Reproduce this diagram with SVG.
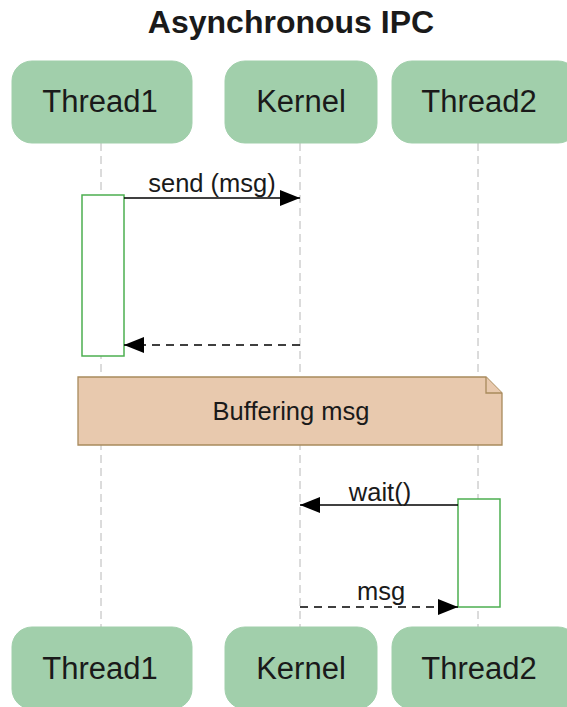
<svg xmlns="http://www.w3.org/2000/svg" width="567" height="707" viewBox="0 0 567 707">
  <style>
    text { font-family: "Liberation Sans", Arial, sans-serif; fill: #1a1a1a; }
    .title { font-size: 32px; font-weight: bold; }
    .actor rect { fill: #a1cfab; stroke: #a1cfab; stroke-width: 1; }
    .actor text { font-size: 31px; text-anchor: middle; }
    .lifeline { stroke: #b8b8b8; stroke-width: 1; stroke-dasharray: 8 5; fill: none; }
    .act { fill: #ffffff; stroke: #4caf50; stroke-width: 1.5; }
    .msg { stroke: #000; stroke-width: 1.6; fill: none; }
    .ret { stroke-dasharray: 8 6; }
    .label { font-size: 25.5px; text-anchor: middle; }
    .note path { fill: #e8c9ae; stroke: #a88a5c; stroke-width: 1.3; }
  </style>
  <defs>
    <marker id="head" viewBox="0 0 20 16" refX="20" refY="8" markerWidth="20" markerHeight="16" markerUnits="userSpaceOnUse" orient="auto">
      <path d="M0,0 L20,8 L0,16 Z" fill="#000"/>
    </marker>
  </defs>

  <text class="title" x="291" y="33" text-anchor="middle">Asynchronous IPC</text>

  <!-- lifelines -->
  <g id="lifelines">
    <line class="lifeline" x1="101" y1="143" x2="101" y2="628"/>
    <line class="lifeline" x1="300" y1="143" x2="300" y2="628"/>
    <line class="lifeline" x1="478" y1="143" x2="478" y2="628"/>
  </g>

  <!-- activation bars -->
  <rect id="act-thread1" class="act" x="82" y="195" width="42" height="161"/>
  <rect id="act-thread2" class="act" x="458" y="499" width="42" height="108"/>

  <!-- note -->
  <g id="note-buffering" class="note">
    <path d="M78,377 H486 L502,393 V445 H78 Z"/>
    <path d="M486,377 V393 H502" fill="none"/>
    <text class="label" x="291" y="420">Buffering msg</text>
  </g>

  <!-- messages -->
  <g id="connectors">
    <line class="msg" x1="124" y1="198" x2="300" y2="198" marker-end="url(#head)"/>
    <text class="label" x="212" y="192">send (msg)</text>
    <line class="msg ret" x1="300" y1="345" x2="124" y2="345" marker-end="url(#head)"/>
    <line class="msg" x1="458" y1="505" x2="300" y2="505" marker-end="url(#head)"/>
    <text class="label" x="380" y="501">wait()</text>
    <line class="msg ret" x1="300" y1="607" x2="458" y2="607" marker-end="url(#head)"/>
    <text class="label" x="381" y="600">msg</text>
  </g>

  <!-- participants (top) -->
  <g id="thread1-top" class="actor">
    <rect x="12" y="61" width="180" height="82" rx="20"/>
    <text x="100" y="112">Thread1</text>
  </g>
  <g id="kernel-top" class="actor">
    <rect x="225" y="61" width="152" height="82" rx="20"/>
    <text x="301" y="112">Kernel</text>
  </g>
  <g id="thread2-top" class="actor">
    <rect x="392" y="61" width="186" height="82" rx="20"/>
    <text x="479" y="112">Thread2</text>
  </g>

  <!-- participants (bottom) -->
  <g id="thread1-bottom" class="actor">
    <rect x="12" y="627" width="180" height="82" rx="20"/>
    <text x="100" y="679">Thread1</text>
  </g>
  <g id="kernel-bottom" class="actor">
    <rect x="225" y="627" width="152" height="82" rx="20"/>
    <text x="301" y="679">Kernel</text>
  </g>
  <g id="thread2-bottom" class="actor">
    <rect x="392" y="627" width="186" height="82" rx="20"/>
    <text x="479" y="679">Thread2</text>
  </g>
</svg>
